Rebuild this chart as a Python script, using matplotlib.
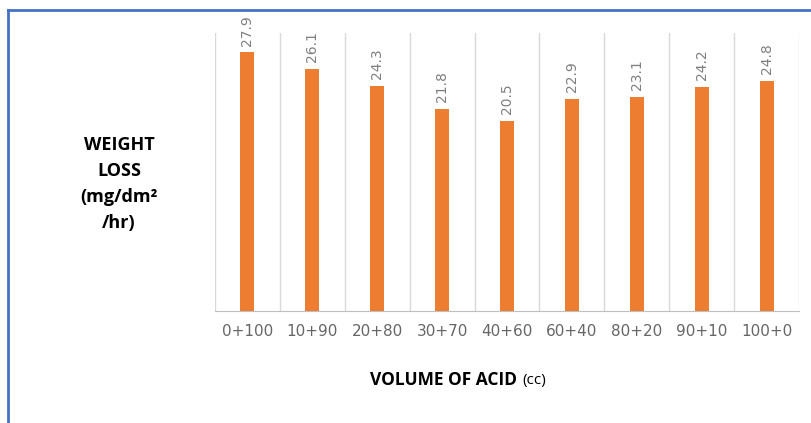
import numpy as np
import matplotlib.pyplot as plt
from matplotlib.lines import Line2D

# data
mixes = ['0+100', '10+90', '20+80', '30+70', '40+60', '60+40', '80+20', '90+10', '100+0']
weight_loss = [27.9, 26.1, 24.3, 21.8, 20.5, 22.9, 23.1, 24.2, 24.8]

W, H = 812, 423
fig = plt.figure(figsize=(W / 100, H / 100), dpi=100)
ax = fig.add_axes([215 / W, 1 - 311 / H, (799 - 215) / W, (311 - 33) / H])

x = np.arange(len(mixes))
ax.bar(x, weight_loss, width=0.215, color='#ED7D31', zorder=3)

for xi, v in zip(x, weight_loss):
    ax.annotate(f'{v}', (xi, v), xytext=(0, 5), textcoords='offset points',
                rotation=90, ha='center', va='bottom', fontsize=10, color='#7F7F7F')

# vertical grid between categories
for b in np.arange(-0.5, len(mixes), 1.0):
    ax.axvline(b, color='#D9D9D9', lw=1, zorder=1)

ax.set_xlim(-0.5, len(mixes) - 0.5)
ax.set_ylim(0, 30)
ax.set_xticks(x)
ax.set_xticklabels(mixes, fontsize=11, color='#666666')
ax.tick_params(axis='x', length=0, pad=9)
ax.set_yticks([])
for s in ['top', 'left', 'right']:
    ax.spines[s].set_visible(False)
ax.spines['bottom'].set_color('#BFBFBF')

fig.text(119 / W, 1 - 184 / H, 'WEIGHT\nLOSS\n(mg/dm²\n/hr)', ha='center', va='center',
         fontsize=13, fontweight='bold', family='Open Sans', linespacing=1.55)
fig.text(522 / W, 1 - 380 / H, 'VOLUME OF ACID ', ha='right', va='center',
         fontsize=12.5, fontweight='bold', family='Open Sans')
fig.text(522 / W, 1 - 380 / H, '(cc)', ha='left', va='center',
         fontsize=11, family='Open Sans')

# blue frame (top and left edges visible)
fig.add_artist(Line2D([8 / W, 1], [1 - 10 / H, 1 - 10 / H], transform=fig.transFigure,
                      color='#4472C4', lw=2))
fig.add_artist(Line2D([8 / W, 8 / W], [0, 1 - 10 / H], transform=fig.transFigure,
                      color='#4472C4', lw=2))

fig.savefig('out.png', dpi=100)
